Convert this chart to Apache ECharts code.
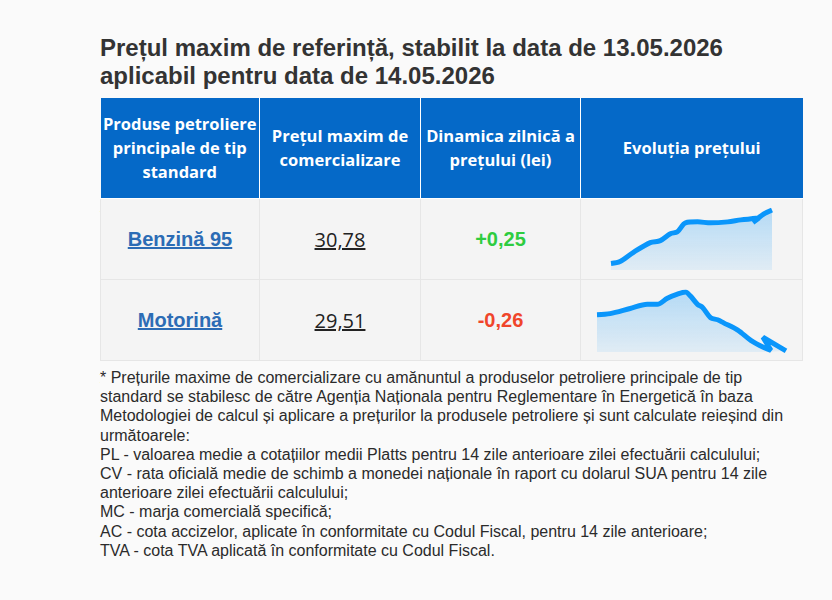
<!DOCTYPE html>
<html lang="ro">
<head>
  <meta charset="UTF-8">
  <title>Prețul maxim de referință</title>
  <style>
    * {
      margin: 0;
      padding: 0;
    }

    body {
      background-color: #fafafa;
      font-family: 'Liberation Sans', Arial, sans-serif;
      color: #333;
      width: 832px;
      height: 600px;
      overflow: hidden;
    }

    .war {
      position: absolute;
      left: 100px;
      top: 34px;
      width: 702px;
    }

    h2 {
      font-size: 24px;
      line-height: 28px;
      font-weight: bold;
      color: #333;
      margin-bottom: 8px;
      white-space: nowrap;
    }

    table {
      border-collapse: collapse;
      width: 702px;
      table-layout: fixed;
    }

    th {
      background-color: #0569c8;
      color: #fff;
      font-family: 'Open Sans', sans-serif;
      font-weight: 700;
      font-size: 16.5px;
      line-height: 24px;
      height: 100px;
      border: 1px solid #fff;
      border-top: 0;
      text-align: center;
      padding: 0 1px;
    }

    th:first-child { border-left: 0; }
    th:last-child { border-right: 0; }

    td {
      background-color: #f4f4f4;
      border: 1px solid #e6e6e6;
      height: 80px;
      text-align: center;
      font-size: 20px;
    }

    td.name a {
      font-weight: bold;
      color: #2c6cb5;
      text-decoration: underline;
    }

    td.price span {
      font-family: 'Open Sans', sans-serif;
      color: #222;
      text-decoration: underline;
    }

    td.up { color: #2ecc40; font-weight: bold; }
    td.down { color: #f0452a; font-weight: bold; }

    td.spark {
      padding: 0;
      position: relative;
    }

    .spark div.chart {
      width: 221px;
      height: 80px;
    }

    .note {
      margin-top: 7px;
      font-size: 16px;
      line-height: 19.2px;
      color: #2b2b2b;
    }
  </style>
</head>

<body>
  <div class="war">
    <h2>Prețul maxim de referință, stabilit la data de 13.05.2026<br>aplicabil pentru data de 14.05.2026</h2>
    <table>
      <colgroup>
        <col style="width:159px">
        <col style="width:161px">
        <col style="width:160px">
        <col style="width:222px">
      </colgroup>
      <thead>
        <tr>
          <th>Produse petroliere principale de tip standard</th>
          <th>Prețul maxim de comercializare</th>
          <th>Dinamica zilnică a prețului (lei)</th>
          <th>Evoluția prețului</th>
        </tr>
      </thead>
      <tbody id="rows"></tbody>
    </table>
    <div class="note">
      * Prețurile maxime de comercializare cu amănuntul a produselor petroliere principale de tip standard se stabilesc de către Agenția Naționala pentru Reglementare în Energetică în baza Metodologiei de calcul și aplicare a prețurilor la produsele petroliere și sunt calculate reieșind din următoarele:<br>
      PL - valoarea medie a cotațiilor medii Platts pentru 14 zile anterioare zilei efectuării calculului;<br>
      CV - rata oficială medie de schimb a monedei naționale în raport cu dolarul SUA pentru 14 zile anterioare zilei efectuării calculului;<br>
      MC - marja comercială specifică;<br>
      AC - cota accizelor, aplicate în conformitate cu Codul Fiscal, pentru 14 zile anterioare;<br>
      TVA - cota TVA aplicată în conformitate cu Codul Fiscal.
    </div>
  </div>

  <script src="https://cdn.jsdelivr.net/npm/echarts@6/dist/echarts.min.js"></script>
  <script>
    // date tabel
    const produse = ['Benzină 95', 'Motorină'];
    const preturi = ['30,78', '29,51'];
    const dinamica = ['+0,25', '-0,26'];

    // evolutia pretului (zi, pret)
    const benzinaZile = [0, 1.8, 4.4, 7.8, 9.8, 11.8, 13.2, 14.8, 17.2, 19.8, 23.2, 25.8, 29.4, 28.2, 30.4, 32];
    const benzinaPret = [29.16, 29.22, 29.49, 29.79, 29.85, 30.06, 30.12, 30.39, 30.42, 30.39, 30.42, 30.48, 30.54, 30.40, 30.66, 30.78];

    const motorinaZile = [0, 2.6, 6.6, 10, 12, 14, 16, 17.6, 18.6, 20, 21, 22.6, 24, 25.2, 28, 30.6, 33.2, 34.6, 33.0, 37.6];
    const motorinaPret = [30.56, 30.59, 30.74, 30.86, 30.86, 31.04, 31.16, 31.22, 31.10, 30.86, 30.77, 30.47, 30.41, 30.32, 30.11, 29.81, 29.60, 29.52, 29.90, 29.50];

    let tbody = document.getElementById('rows');
    produse.forEach((p, i) => {
      let tr = document.createElement('tr');
      tr.innerHTML =
        '<td class="name"><a>' + p + '</a></td>' +
        '<td class="price"><span>' + preturi[i] + '</span></td>' +
        '<td class="' + (dinamica[i][0] == '+' ? 'up' : 'down') + '">' + dinamica[i] + '</td>' +
        '<td class="spark"><div class="chart"></div></td>';
      tbody.appendChild(tr);
    });

    function spark(el, zile, pret, grid, xMax, yMin, yMax) {
      let chart = echarts.init(el, null, { renderer: 'canvas' });
      let data = zile.map((z, i) => [z, pret[i]]);
      chart.setOption({
        animation: false,
        grid: grid,
        xAxis: { type: 'value', min: 0, max: xMax, show: false },
        yAxis: { type: 'value', min: yMin, max: yMax, show: false },
        series: [{
          type: 'line',
          data: data,
          smooth: 0.3,
          symbol: 'none',
          lineStyle: { width: 5, color: '#0a96fb' },
          areaStyle: {
            origin: 'start',
            color: new echarts.graphic.LinearGradient(0, 0, 0, 1, [
              { offset: 0, color: 'rgba(10,150,251,0.38)' },
              { offset: 1, color: 'rgba(10,150,251,0.12)' }
            ])
          }
        }]
      });
    }

    let charts = document.querySelectorAll('.chart');
    spark(charts[0], benzinaZile, benzinaPret, { left: 30, right: 30, top: 11, bottom: 9 }, 32, 28.96, 30.78);
    spark(charts[1], motorinaZile, motorinaPret, { left: 16, right: 16, top: 12, bottom: 8 }, 37.6, 29.47, 31.22);
  </script>
</body>
</html>
